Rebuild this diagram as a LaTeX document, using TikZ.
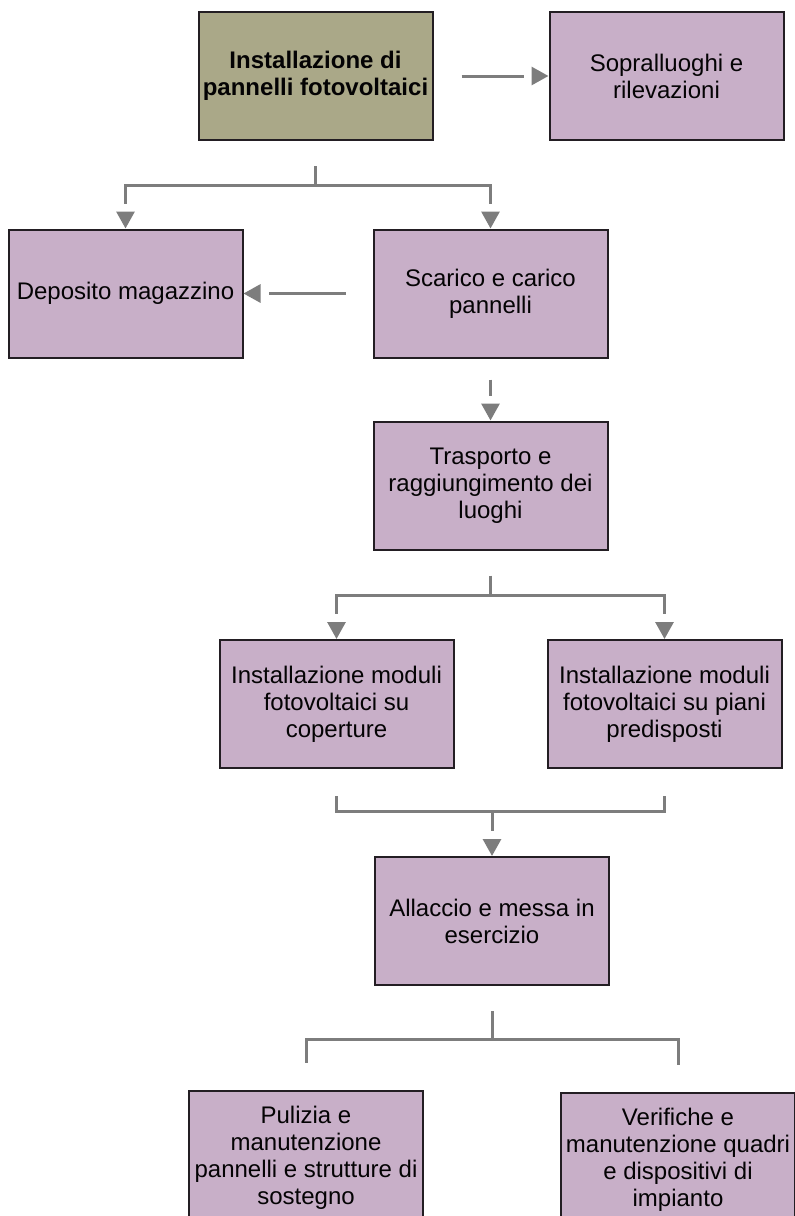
\documentclass[tikz,border=0pt]{standalone}
\usepackage{fontspec}
\setmainfont{Liberation Sans}
\usetikzlibrary{positioning}
\usetikzlibrary{calc}
\usetikzlibrary{arrows.meta}
\usetikzlibrary{decorations.markings}
\definecolor{Mauve-1}{RGB}{200,175,200}
\definecolor{Olive-1}{RGB}{170,168,136}
\definecolor{Edge-1}{RGB}{35,30,35}
\definecolor{Gray-1}{RGB}{125,125,125}

\begin{document}
\begin{tikzpicture}[x=0.5pt, y=-0.5pt]
    \tikzset{ stp/.style  ={draw=Edge-1, line width=1pt, fill=Mauve-1, text=black!90!Edge-1, minimum width=117pt, minimum height=64pt, inner sep=0pt, align=center, font=\fontsize{12}{13.5}\selectfont} }
    \tikzset{ root/.style ={stp, fill=Olive-1, font=\fontsize{12}{13.5}\selectfont\bfseries} }
    \tikzset{ lnk/.style  ={draw, color=Gray-1, line width=1.5pt} }
    \tikzset{ arw/.style  ={lnk, shorten >=12.5pt, postaction={decorate, decoration={markings, mark=at position 1 with {\arrow{Triangle[width=9pt,length=8.5pt]}}}}} }

    \useasboundingbox (0,0) rectangle (794,1216);

    \node[root                      ] (inst) at (315.5,76)    {Installazione di\\pannelli fotovoltaici};
    \node[stp,  right=57.5pt of inst] (sopr)                  {Sopralluoghi e\\rilevazioni};
    \node[stp                       ] (scar) at (490.5,293.5) {Scarico e carico\\pannelli};
    \node[stp,  left=64.5pt of scar ] (depo)                  {Deposito magazzino};
    \node[stp,  below=31pt of scar  ] (tras)                  {Trasporto e\\raggiungimento dei\\luoghi};
    \node[stp                       ] (mod1) at (336.5,704)   {Installazione moduli\\fotovoltaici su\\coperture};
    \node[stp,  right=46pt of mod1  ] (mod2)                  {Installazione moduli\\fotovoltaici su piani\\predisposti};
    \node[stp                       ] (alla) at (492,921)     {Allaccio e messa in\\esercizio};
    \node[stp,  minimum height=67pt ] (puli) at (306,1158)    {Pulizia e\\manutenzione\\pannelli e strutture di\\sostegno};
    \node[stp,  minimum height=67pt ] (veri) at (678,1160)    {Verifiche e\\manutenzione quadri\\e dispositivi di\\impianto};

    \coordinate (j1) at ($(inst.south)+(0,44)$);
    \coordinate (j2) at ($(tras.south)+(0,45)$);
    \coordinate (j3) at ($(alla.north)+(0,-45)$);
    \coordinate (j4) at ($(alla.south)+(0,53)$);

    \draw[arw, shorten <=14pt  ] (inst.east)  --  (sopr.west);
    \draw[lnk, shorten <=12.5pt] (inst.south) --  (j1);
    \draw[arw                  ] (j1)         -|  (depo.north);
    \draw[arw                  ] (j1)         -|  (scar.north);
    \draw[arw, shorten <=13.5pt] (scar.west)  --  (depo.east);
    \draw[arw, shorten <=10.5pt] (scar.south) --  (tras.north);
    \draw[lnk, shorten <=12.5pt] (tras.south) --  (j2);
    \draw[arw                  ] (j2)         -|  (mod1.north);
    \draw[arw                  ] (j2)         -|  (mod2.north);
    \draw[lnk, shorten <=13.5pt] (mod1.south) |-  (j3);
    \draw[lnk, shorten <=13.5pt] (mod2.south) |-  (j3);
    \draw[arw                  ] (j3)         --  (alla.north);
    \draw[lnk, shorten <=12.5pt] (alla.south) --  (j4);
    \draw[lnk, shorten >=13.5pt] (j4)         -|  (puli.north);
    \draw[lnk, shorten >=13.5pt] (j4)         -|  (veri.north);
\end{tikzpicture}
\end{document}
